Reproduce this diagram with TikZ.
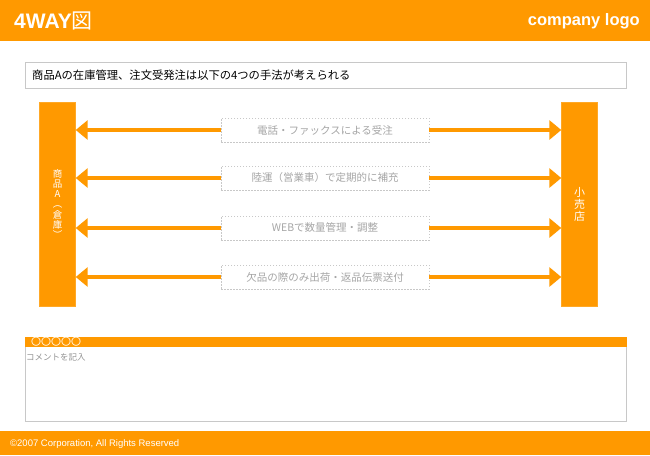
\documentclass[tikz,border=0pt]{standalone}
\usepackage{fontspec}
\setmainfont{Liberation Sans}
\newfontfamily\cjk{Noto Sans CJK JP}
\usetikzlibrary{arrows.meta}
\definecolor{orng}{RGB}{255,153,0}
\definecolor{lblgray}{RGB}{165,165,165}
\definecolor{boxgray}{RGB}{200,200,200}
\tikzset{
  bar/.style={fill=orng, draw=orng!85!white, minimum width=36pt, minimum height=204pt, inner sep=0pt, text=white, align=center},
  lbl/.style={draw=boxgray, dash pattern=on 1.5pt off 1.5pt, line width=0.6pt, minimum width=208pt, minimum height=24pt, inner sep=0pt, text=lblgray, font=\cjk\fontsize{10.5}{12}\selectfont},
  flow/.style={draw=orng, line width=4pt, -{Triangle[length=12pt,width=19pt]}},
}
\begin{document}
\begin{tikzpicture}[x=1pt,y=-1pt]
\useasboundingbox (0,0) rectangle (650,455);
% header
\fill[orng] (0,0) rectangle (650,41);
\node[anchor=west, text=white, font=\bfseries\fontsize{21}{23}\selectfont, inner sep=0pt] (title) at (14,21) {4WAY{\cjk\mdseries 図}};
\node[anchor=east, text=white, font=\bfseries\fontsize{16.5}{19}\selectfont, inner sep=0pt] (logo) at (640,21) {company logo};
% top text box
\node[draw=boxgray, line width=0.7pt, minimum width=601pt, minimum height=26pt, inner sep=0pt, anchor=north west] (intro) at (25,62) {};
\node[anchor=west, inner sep=0pt, font=\cjk\fontsize{11.3}{12}\selectfont] (introtxt) at (32,75) {商品Aの在庫管理、注文受発注は以下の4つの手法が考えられる};
% bars
\node[bar, font=\cjk\fontsize{9.5}{10.3}\selectfont] (left) at (57.5,204) {商\\品\\A\\︵\\倉\\庫\\︶};
\node[bar, font=\cjk\fontsize{11}{12}\selectfont] (right) at (579.5,204) {小\\売\\店};
% labels
\node[lbl] (l1) at (325,130) {電話・ファックスによる受注};
\node[lbl] (l2) at (325,178) {陸運（営業車）で定期的に補充};
\node[lbl] (l3) at (325,228) {WEBで数量管理・調整};
\node[lbl] (l4) at (325,277) {欠品の際のみ出荷・返品伝票送付};
\foreach \i in {1,2,3,4}{
  \draw[flow] (l\i.west) -- (l\i.west -| left.east);
  \draw[flow] (l\i.east) -- (l\i.east -| right.west);
}
% comment box
\node[draw=boxgray, line width=0.7pt, minimum width=601pt, minimum height=84pt, inner sep=0pt, anchor=north west] (cbox) at (25,337) {};
\fill[orng] (cbox.north west) rectangle ([yshift=-10pt]cbox.north east);
\node[anchor=west, inner sep=0pt, text=white, font=\cjk\fontsize{10}{11}\selectfont] (chead) at (31,342) {〇〇〇〇〇};
\node[anchor=west, inner sep=0pt, text=gray!85, font=\cjk\fontsize{8.5}{10}\selectfont] (ctext) at (26,357) {コメントを記入};
% footer
\fill[orng] (0,431) rectangle (650,455);
\node[anchor=west, inner sep=0pt, text=white, font=\fontsize{9.5}{11}\selectfont] (foot) at (10,444) {©2007 Corporation, All Rights Reserved};
\end{tikzpicture}
\end{document}
